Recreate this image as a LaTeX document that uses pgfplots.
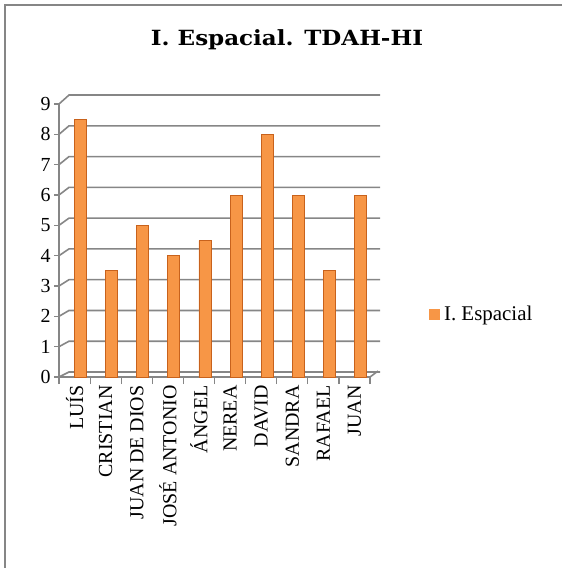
\documentclass[border=0pt]{standalone}
\usepackage{pgfplots}
\pgfplotsset{compat=1.18}
\usepackage{fontspec}
\setmainfont{Liberation Serif}
\newfontfamily\titlefont{DejaVu Serif}
\usepackage{graphicx}
\definecolor{gridc}{HTML}{868686}
\definecolor{barmain}{HTML}{F79646}
\definecolor{baredge}{HTML}{C8621C}
\begin{document}
\begin{tikzpicture}
\useasboundingbox (0bp,0bp) rectangle (562bp,568bp);
\draw[gridc, line width=2bp] (5bp,0bp) -- (5bp,563bp) -- (562bp,563bp);
\node[font=\titlefont\bfseries\fontsize{21}{25}\selectfont] at (287bp,528bp) {\scalebox{1.1}[1]{I. Espacial. TDAH-HI}};
\begin{axis}[
  at={(59bp,191bp)}, anchor=south west, scale only axis,
  width=311bp, height=273bp,
  xmin=-0.5, xmax=9.5, ymin=0, ymax=9,
  clip=false,
  axis x line*=bottom, axis y line*=left,
  axis line style={-, gridc, line width=1.6bp},
  tick align=outside,
  ytick={0,...,9},
  major tick length=5bp,
  y tick style={gridc, line width=1.2bp},
  xtick={0,...,9},
  xticklabels={LUÍS, CRISTIAN, JUAN DE DIOS, JOSÉ ANTONIO, ÁNGEL, NEREA, DAVID, SANDRA, RAFAEL, JUAN},
  major x tick style={draw=none},
  minor xtick={-0.5,0.5,...,9.5},
  minor tick length=7bp,
  minor x tick style={gridc, line width=1.2bp},
  xticklabel style={rotate=90, anchor=east, font=\fontsize{20}{24}\selectfont},
  yticklabel style={font=\fontsize{20}{24}\selectfont},
  /pgf/number format/assume math mode=true,
  legend style={at={(axis description cs:1.19,0.231)}, anchor=west, draw=none, fill=none, font=\fontsize{21}{25}\selectfont, inner sep=0pt, nodes={inner xsep=4bp}},
  legend image code/.code={\fill[barmain] (0bp,-5bp) rectangle (10bp,5bp);},
]
\pgfplotsinvokeforeach{0,...,9}{
  \draw[gridc, line width=1.6bp] (axis cs:-0.5,#1) -- ([shift={(10bp,{(5+0.44*#1)*1bp})}]axis cs:-0.5,#1) -- ([shift={(10bp,{(5+0.44*#1)*1bp})}]axis cs:9.5,#1);
}
\draw[gridc, line width=1.6bp] (axis cs:9.5,0) -- ([shift={(8bp,6bp)}]axis cs:9.5,0);
\addplot[ybar, bar width=12bp, bar shift=6bp, draw=baredge, line width=0.8bp, fill=barmain]
  coordinates {(0,8.5) (1,3.5) (2,5) (3,4) (4,4.5) (5,6) (6,8) (7,6) (8,3.5) (9,6)};
\addlegendentry{I. Espacial}
\end{axis}
\end{tikzpicture}
\end{document}
